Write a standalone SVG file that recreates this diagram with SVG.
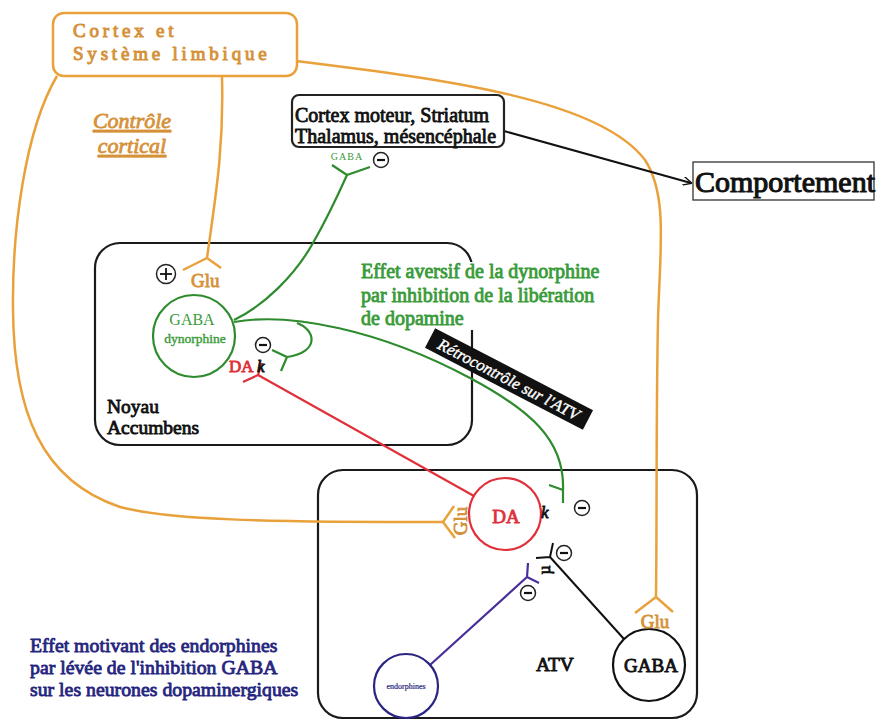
<svg xmlns="http://www.w3.org/2000/svg" width="877" height="727" viewBox="0 0 877 727">
<defs>
<style>
text{font-family:"Liberation Serif","Times New Roman",serif;font-weight:normal;stroke-width:.85px;stroke-linejoin:round}
.cb{fill:#111;stroke:#111}
.co{fill:#D6923A;stroke:#D6923A}
.cg{fill:#3A9B3A;stroke:#3A9B3A}
.cr{fill:#E0303A;stroke:#E0303A}
.cn{fill:#25257E;stroke:#25257E}
.cw{fill:#fff;stroke:#fff;stroke-width:.4px}
.or{stroke:#E9A13B;fill:none;stroke-width:2.5}
.gr{stroke:#2E8B2E;fill:none;stroke-width:2.2}
.rd{stroke:#E0303A;fill:none;stroke-width:2.2}
.pu{stroke:#4A2F9A;fill:none;stroke-width:2.2}
.bk{stroke:#111;fill:none;stroke-width:2}
.box{fill:none;stroke:#1a1a1a;stroke-width:2.2}
.sig{fill:#fff;stroke:#222;stroke-width:1.5}
</style>
<marker id="ah" viewBox="0 0 10 10" refX="9" refY="5" markerWidth="9" markerHeight="9" orient="auto" markerUnits="userSpaceOnUse">
<path d="M0,0 L10,5 L0,10" fill="none" stroke="#111" stroke-width="1.5"/>
</marker>
<g id="minus"><circle r="7.5" class="sig"/><line x1="-4" y1="0" x2="4" y2="0" stroke="#111" stroke-width="2.2"/></g>
</defs>
<rect width="877" height="727" fill="#fff"/>

<g id="noyau">
<rect x="95" y="243" width="377" height="202" rx="25" class="box"/>
<text x="107" y="413" font-size="19.5" class="cb">Noyau</text>
<text x="107" y="434" font-size="19.5" class="cb">Accumbens</text>
</g>
<g id="atv">
<rect x="318" y="470" width="379" height="248" rx="25" class="box"/>
<text x="555" y="671" font-size="19.5" class="cb" text-anchor="middle">ATV</text>
</g>

<g id="connectors">
<path class="or" d="M57,76 C25,130 12,230 13,310 C14,410 40,480 120,507 C170,520 260,522 443,522"/>
<path class="or" d="M443,522 L454,506 M443,522 L455,538"/>
<path class="or" d="M222,77 C224,150 215,200 207,258 M207,258 L183,270 M207,258 L221,268"/>
<path class="or" d="M296,61 C450,80 600,100 645,160 C668,195 660,250 658,320 C656,420 657,520 656,597 M656,597 L635,613 M656,597 L673,612"/>
<path class="bk" d="M504,131 L691,183" stroke-width="1.6" marker-end="url(#ah)"/>
<path class="gr" d="M234,320 C265,305 295,275 313,243 C325,222 338,195 347,175 M347,175 L332,165 M347,175 L370,167"/>
<path class="gr" d="M234,322 C290,312 380,330 470,378 C530,410 565,440 563,490 M563,490 L549,485 M563,490 L563,503"/>
<path class="gr" d="M297,323 C316,330 320,352 287,357 M287,357 L272,350 M287,357 L281,371"/>
<path class="rd" d="M474,496 L258,375 M258,375 L243,382 M258,375 L262,363"/>
<path class="bk" d="M624,639 L550,557 M550,557 L536,558 M550,557 L553,543"/>
<path class="pu" d="M430,665 L527,577 M527,577 L528,563 M527,577 L539,583"/>
</g>

<g id="cortex-limbique">
<rect x="53" y="13" width="244" height="63" rx="11" fill="#fff" stroke="#E9A13B" stroke-width="2.5"/>
<text x="73" y="37" font-size="19" class="co" letter-spacing="3.8" style="stroke-width:1px">Cortex et</text>
<text x="73" y="60" font-size="19" class="co" letter-spacing="3.8" style="stroke-width:1px">Système limbique</text>
</g>
<g id="controle">
<text x="132" y="128" font-size="22" class="co" font-style="italic" text-anchor="middle" text-decoration="underline">Contrôle</text>
<text x="132" y="153" font-size="22" class="co" font-style="italic" text-anchor="middle" text-decoration="underline">cortical</text>
</g>
<g id="cortex-moteur">
<rect x="292" y="95" width="212" height="52" rx="7" fill="#fff" stroke="#222" stroke-width="2.2"/>
<text x="295" y="122" font-size="20" class="cb">Cortex moteur, Striatum</text>
<text x="295" y="143" font-size="20" class="cb">Thalamus, mésencéphale</text>
</g>
<g id="comportement">
<rect x="693" y="162" width="181" height="38" fill="#fff" stroke="#333" stroke-width="1.3"/>
<text x="695" y="192" font-size="30" class="cb" style="stroke-width:1.1px">Comportement</text>
</g>

<g id="gaba-dyn">
<circle cx="194" cy="336" r="41" fill="#fff" stroke="#2E8B2E" stroke-width="2.2"/>
<text x="192" y="325" font-size="16" class="cg" text-anchor="middle" style="stroke-width:0">GABA</text>
<text x="195" y="343" font-size="13.5" class="cg" text-anchor="middle" style="stroke-width:.4px">dynorphine</text>
</g>
<g id="da">
<circle cx="505" cy="514" r="36" fill="#fff" stroke="#E0303A" stroke-width="2.2"/>
<text x="506" y="523" font-size="19" class="cr" text-anchor="middle">DA</text>
</g>
<g id="gaba-atv">
<circle cx="649" cy="665" r="36" fill="#fff" stroke="#111" stroke-width="2.2"/>
<text x="651" y="672" font-size="19" class="cb" text-anchor="middle">GABA</text>
</g>
<g id="endorphines">
<circle cx="406" cy="686" r="32" fill="#fff" stroke="#2A2580" stroke-width="2.2"/>
<text x="406" y="689" font-size="8" class="cn" text-anchor="middle" style="stroke-width:.2px">endorphines</text>
</g>

<g id="labels">
<rect x="358" y="262" width="252" height="68" fill="#fff"/>
<text x="361" y="278" font-size="20" class="cg">Effet aversif de la dynorphine</text>
<text x="361" y="302" font-size="20" class="cg">par inhibition de la libération</text>
<text x="361" y="325" font-size="20" class="cg">de dopamine</text>
<g transform="translate(509,379) rotate(27.5)">
<rect x="-89" y="-11" width="178" height="22" fill="#111"/>
<text x="0" y="6" font-size="16.5" class="cw" font-style="italic" text-anchor="middle">Rétrocontrôle sur l'ATV</text>
</g>
<text x="30" y="652" font-size="19.8" class="cn">Effet motivant des endorphines</text>
<text x="30" y="674" font-size="19.8" class="cn">par lévée de l'inhibition GABA</text>
<text x="30" y="696" font-size="19.8" class="cn">sur les neurones dopaminergiques</text>
<text x="191" y="287" font-size="19" class="co">Glu</text>
<text x="655" y="628" font-size="19" class="co" text-anchor="middle">Glu</text>
<text transform="translate(467,521) rotate(-90)" font-size="19" class="co" text-anchor="middle">Glu</text>
<text x="347" y="160" font-size="10" class="cg" text-anchor="middle" letter-spacing="1" style="stroke-width:0">GABA</text>
<text x="229" y="372" font-size="17" class="cr">DA</text>
<text x="257" y="372" font-size="17" class="cb" font-style="italic">k</text>
<text x="541" y="518" font-size="17" class="cb" font-style="italic">k</text>
<text transform="translate(550,570) rotate(-90)" font-size="16" class="cb" text-anchor="middle">µ</text>
<use href="#minus" x="381" y="160"/>
<use href="#minus" x="263" y="345"/>
<use href="#minus" x="582" y="508"/>
<use href="#minus" x="564" y="553"/>
<use href="#minus" x="528" y="593"/>
<g transform="translate(166,274)"><circle r="9.5" class="sig"/><line x1="-6" y1="0" x2="6" y2="0" stroke="#111" stroke-width="1.8"/><line x1="0" y1="-6" x2="0" y2="6" stroke="#111" stroke-width="1.8"/></g>
</g>
</svg>
